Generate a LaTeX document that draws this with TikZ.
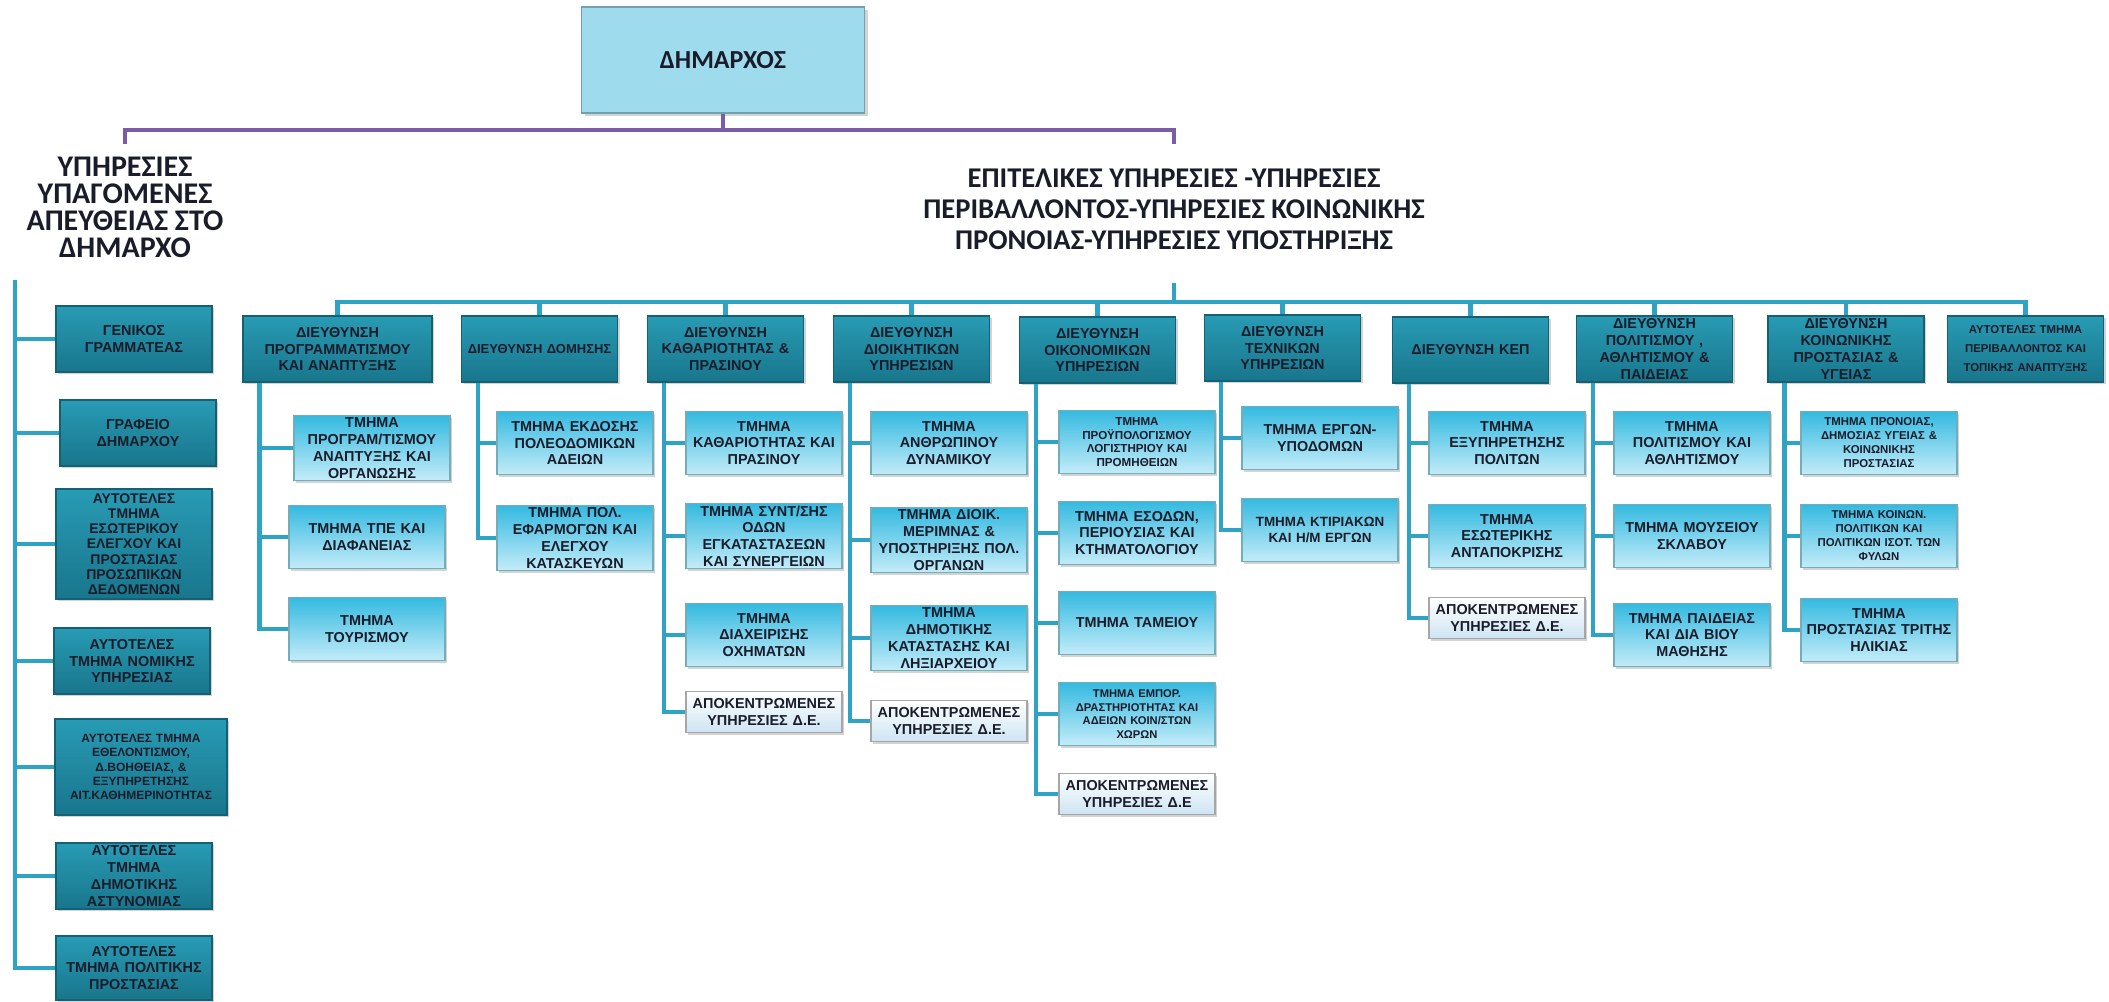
\documentclass[tikz,border=0pt]{standalone}
\usepackage{fontspec}
\setmainfont{Liberation Sans}
\newfontfamily\headfont{Carlito}
\usetikzlibrary{shadows}

\definecolor{darkteal}{RGB}{40,155,180}
\definecolor{darktealb}{RGB}{24,118,140}
\definecolor{edgeteal}{RGB}{20,96,116}
\definecolor{lightcyan}{RGB}{52,186,224}
\definecolor{palecyan}{RGB}{196,236,249}
\definecolor{paleblue}{RGB}{206,228,243}
\definecolor{linkblue}{RGB}{46,163,196}
\definecolor{mayorpurple}{RGB}{124,92,166}
\definecolor{mayorfill}{RGB}{158,219,236}
\definecolor{inkdark}{RGB}{26,28,42}

\begin{document}
\begin{tikzpicture}[x=0.5pt,y=-0.5pt,
  headbox/.style={rectangle, draw=edgeteal, line width=0.6pt,
    top color=darkteal, bottom color=darktealb,
    minimum width=77.5pt, minimum height=33pt, text width=76pt,
    align=center, inner sep=1pt, text=inkdark,
    font=\bfseries\fontsize{7.2}{8.4}\selectfont,
    drop shadow={shadow xshift=1.2pt, shadow yshift=-1.2pt, opacity=0.35}},
  subbox/.style={headbox, draw=darktealb!60, top color=lightcyan,
    bottom color=palecyan, minimum height=31.5pt},
  decbox/.style={subbox, draw=gray!70, top color=white,
    bottom color=paleblue, minimum height=20.5pt},
  small/.style 2 args={font=\bfseries\fontsize{#1}{#2}\selectfont},
  link/.style={draw=linkblue, line width=2.4pt},
  plink/.style={draw=mayorpurple, line width=2pt},
  heading/.style={align=center, text=inkdark,
    font=\headfont\bfseries\fontsize{15}{13.5}\selectfont}]

  \useasboundingbox (0,0) rectangle (2109,1001);

  % mayor and the two headings
  \node[rectangle, draw=edgeteal!60, line width=0.6pt, fill=mayorfill,
        minimum width=141.5pt, minimum height=53pt, text=inkdark,
        font=\headfont\bfseries\fontsize{13}{15}\selectfont,
        drop shadow={shadow xshift=1.5pt, shadow yshift=-1.5pt, opacity=0.35}]
        (mayor) at (723,60) {ΔΗΜΑΡΧΟΣ};
  \node[heading] (lefthead) at (125,207)
        {ΥΠΗΡΕΣΙΕΣ\\ΥΠΑΓΟΜΕΝΕΣ\\ΑΠΕΥΘΕΙΑΣ ΣΤΟ\\ΔΗΜΑΡΧΟ};
  \node[heading, font=\headfont\bfseries\fontsize{14.3}{15.5}\selectfont]
        (righthead) at (1174,209)
        {ΕΠΙΤΕΛΙΚΕΣ ΥΠΗΡΕΣΙΕΣ -ΥΠΗΡΕΣΙΕΣ\\ΠΕΡΙΒΑΛΛΟΝΤΟΣ-ΥΠΗΡΕΣΙΕΣ ΚΟΙΝΩΝΙΚΗΣ\\ΠΡΟΝΟΙΑΣ-ΥΠΗΡΕΣΙΕΣ ΥΠΟΣΤΗΡΙΞΗΣ};

  \coordinate (pl) at (125,144);
  \coordinate (pr) at (1174,144);
  \coordinate (bar) at (723,130);
  \draw[plink] (pl) |- (bar) -| (pr);
  \draw[plink] (mayor.south) -- (bar);

  % services under the mayor
  \node[headbox] (l1) at (134,339) {ΓΕΝΙΚΟΣ\\ΓΡΑΜΜΑΤΕΑΣ};
  \node[headbox] (l2) at (138,433) {ΓΡΑΦΕΙΟ\\ΔΗΜΑΡΧΟΥ};
  \node[headbox, minimum height=55pt, small={7}{7.6}] (l3) at (134,544)
        {ΑΥΤΟΤΕΛΕΣ\\ΤΜΗΜΑ\\ΕΣΩΤΕΡΙΚΟΥ\\ΕΛΕΓΧΟΥ ΚΑΙ\\ΠΡΟΣΤΑΣΙΑΣ\\ΠΡΟΣΩΠΙΚΩΝ\\ΔΕΔΟΜΕΝΩΝ};
  \node[headbox] (l4) at (132,661) {ΑΥΤΟΤΕΛΕΣ\\ΤΜΗΜΑ ΝΟΜΙΚΗΣ\\ΥΠΗΡΕΣΙΑΣ};
  \node[headbox, minimum width=86pt, text width=84pt, minimum height=48pt, small={6}{7.2}]
        (l5) at (141,767)
        {ΑΥΤΟΤΕΛΕΣ ΤΜΗΜΑ\\ΕΘΕΛΟΝΤΙΣΜΟΥ,\\Δ.ΒΟΗΘΕΙΑΣ, \&\\ΕΞΥΠΗΡΕΤΗΣΗΣ\\ΑΙΤ.ΚΑΘΗΜΕΡΙΝΟΤΗΤΑΣ};
  \node[headbox] (l6) at (134,876) {ΑΥΤΟΤΕΛΕΣ\\ΤΜΗΜΑ\\ΔΗΜΟΤΙΚΗΣ\\ΑΣΤΥΝΟΜΙΑΣ};
  \node[headbox, minimum height=32pt] (l7) at (134,968)
        {ΑΥΤΟΤΕΛΕΣ\\ΤΜΗΜΑ ΠΟΛΙΤΙΚΗΣ\\ΠΡΟΣΤΑΣΙΑΣ};

  \coordinate (ltop) at (15,280);
  \draw[link] (ltop) |- (l7.west);
  \foreach \l in {l1,l2,l3,l4,l5,l6}
    \draw[link] (ltop |- \l.west) -- (\l.west);

  % directorates
  \node[headbox, minimum width=94.5pt, text width=92pt] (d1) at (337.5,349)
        {ΔΙΕΥΘΥΝΣΗ\\ΠΡΟΓΡΑΜΜΑΤΙΣΜΟΥ\\ΚΑΙ ΑΝΑΠΤΥΞΗΣ};
  \node[headbox, small={6.5}{8}] (d2) at (539.5,349) {ΔΙΕΥΘΥΝΣΗ ΔΟΜΗΣΗΣ};
  \node[headbox] (d3) at (725.5,349) {ΔΙΕΥΘΥΝΣΗ\\ΚΑΘΑΡΙΟΤΗΤΑΣ \&\\ΠΡΑΣΙΝΟΥ};
  \node[headbox] (d4) at (911.5,349) {ΔΙΕΥΘΥΝΣΗ\\ΔΙΟΙΚΗΤΙΚΩΝ\\ΥΠΗΡΕΣΙΩΝ};
  \node[headbox] (d5) at (1097.5,350) {ΔΙΕΥΘΥΝΣΗ\\ΟΙΚΟΝΟΜΙΚΩΝ\\ΥΠΗΡΕΣΙΩΝ};
  \node[headbox] (d6) at (1282.5,348) {ΔΙΕΥΘΥΝΣΗ\\ΤΕΧΝΙΚΩΝ\\ΥΠΗΡΕΣΙΩΝ};
  \node[headbox] (d7) at (1470.5,350) {ΔΙΕΥΘΥΝΣΗ ΚΕΠ};
  \node[headbox] (d8) at (1654.5,349) {ΔΙΕΥΘΥΝΣΗ\\ΠΟΛΙΤΙΣΜΟΥ ,\\ΑΘΛΗΤΙΣΜΟΥ \&\\ΠΑΙΔΕΙΑΣ};
  \node[headbox] (d9) at (1846,349) {ΔΙΕΥΘΥΝΣΗ\\ΚΟΙΝΩΝΙΚΗΣ\\ΠΡΟΣΤΑΣΙΑΣ \&\\ΥΓΕΙΑΣ};
  \node[headbox, small={5.7}{9.5}] (d10) at (2025.5,349)
        {ΑΥΤΟΤΕΛΕΣ ΤΜΗΜΑ\\ΠΕΡΙΒΑΛΛΟΝΤΟΣ ΚΑΙ\\ΤΟΠΙΚΗΣ ΑΝΑΠΤΥΞΗΣ};

  \coordinate (bustop) at (1174,283);
  \coordinate (bus) at (1174,302);
  \draw[link] (bustop) -- (bus);
  \draw[link] (d1.north) |- (bus) -| (d10.north);
  \foreach \d in {d2,d3,d4,d5,d6,d7,d8,d9}
    \draw[link] (\d.north) -- (\d.north |- bus);

  % departments
  \node[subbox] (s11) at (372,448) {ΤΜΗΜΑ\\ΠΡΟΓΡΑΜ/ΤΙΣΜΟΥ\\ΑΝΑΠΤΥΞΗΣ ΚΑΙ\\ΟΡΓΑΝΩΣΗΣ};
  \node[subbox] (s12) at (367,537) {ΤΜΗΜΑ ΤΠΕ ΚΑΙ\\ΔΙΑΦΑΝΕΙΑΣ};
  \node[subbox] (s13) at (367,629) {ΤΜΗΜΑ\\ΤΟΥΡΙΣΜΟΥ};

  \node[subbox] (s21) at (575,443) {ΤΜΗΜΑ ΕΚΔΟΣΗΣ\\ΠΟΛΕΟΔΟΜΙΚΩΝ\\ΑΔΕΙΩΝ};
  \node[subbox] (s22) at (575,538) {ΤΜΗΜΑ ΠΟΛ.\\ΕΦΑΡΜΟΓΩΝ ΚΑΙ\\ΕΛΕΓΧΟΥ\\ΚΑΤΑΣΚΕΥΩΝ};

  \node[subbox] (s31) at (764,443) {ΤΜΗΜΑ\\ΚΑΘΑΡΙΟΤΗΤΑΣ ΚΑΙ\\ΠΡΑΣΙΝΟΥ};
  \node[subbox] (s32) at (764,536) {ΤΜΗΜΑ ΣΥΝΤ/ΣΗΣ\\ΟΔΩΝ\\ΕΓΚΑΤΑΣΤΑΣΕΩΝ\\ΚΑΙ ΣΥΝΕΡΓΕΙΩΝ};
  \node[subbox] (s33) at (764,635) {ΤΜΗΜΑ\\ΔΙΑΧΕΙΡΙΣΗΣ\\ΟΧΗΜΑΤΩΝ};
  \node[decbox] (s34) at (764,712) {ΑΠΟΚΕΝΤΡΩΜΕΝΕΣ\\ΥΠΗΡΕΣΙΕΣ Δ.Ε.};

  \node[subbox] (s41) at (949,443) {ΤΜΗΜΑ\\ΑΝΘΡΩΠΙΝΟΥ\\ΔΥΝΑΜΙΚΟΥ};
  \node[subbox] (s42) at (949,540) {ΤΜΗΜΑ ΔΙΟΙΚ.\\ΜΕΡΙΜΝΑΣ \&\\ΥΠΟΣΤΗΡΙΞΗΣ ΠΟΛ.\\ΟΡΓΑΝΩΝ};
  \node[subbox] (s43) at (949,638) {ΤΜΗΜΑ\\ΔΗΜΟΤΙΚΗΣ\\ΚΑΤΑΣΤΑΣΗΣ ΚΑΙ\\ΛΗΞΙΑΡΧΕΙΟΥ};
  \node[decbox] (s44) at (949,721) {ΑΠΟΚΕΝΤΡΩΜΕΝΕΣ\\ΥΠΗΡΕΣΙΕΣ Δ.Ε.};

  \node[subbox, small={5.8}{6.8}] (s51) at (1137,442) {ΤΜΗΜΑ\\ΠΡΟΫΠΟΛΟΓΙΣΜΟΥ\\ΛΟΓΙΣΤΗΡΙΟΥ ΚΑΙ\\ΠΡΟΜΗΘΕΙΩΝ};
  \node[subbox] (s52) at (1137,533) {ΤΜΗΜΑ ΕΣΟΔΩΝ,\\ΠΕΡΙΟΥΣΙΑΣ ΚΑΙ\\ΚΤΗΜΑΤΟΛΟΓΙΟΥ};
  \node[subbox] (s53) at (1137,623) {ΤΜΗΜΑ ΤΑΜΕΙΟΥ};
  \node[subbox, small={5.6}{6.7}] (s54) at (1137,714) {ΤΜΗΜΑ ΕΜΠΟΡ.\\ΔΡΑΣΤΗΡΙΟΤΗΤΑΣ ΚΑΙ\\ΑΔΕΙΩΝ ΚΟΙΝ/ΣΤΩΝ\\ΧΩΡΩΝ};
  \node[decbox] (s55) at (1137,794) {ΑΠΟΚΕΝΤΡΩΜΕΝΕΣ\\ΥΠΗΡΕΣΙΕΣ Δ.Ε};

  \node[subbox] (s61) at (1320,438) {ΤΜΗΜΑ ΕΡΓΩΝ-\\ΥΠΟΔΟΜΩΝ};
  \node[subbox, small={6.7}{8.2}] (s62) at (1320,530) {ΤΜΗΜΑ ΚΤΙΡΙΑΚΩΝ\\ΚΑΙ Η/Μ ΕΡΓΩΝ};

  \node[subbox] (s71) at (1507,443) {ΤΜΗΜΑ\\ΕΞΥΠΗΡΕΤΗΣΗΣ\\ΠΟΛΙΤΩΝ};
  \node[subbox] (s72) at (1507,536) {ΤΜΗΜΑ\\ΕΣΩΤΕΡΙΚΗΣ\\ΑΝΤΑΠΟΚΡΙΣΗΣ};
  \node[decbox] (s73) at (1507,618) {ΑΠΟΚΕΝΤΡΩΜΕΝΕΣ\\ΥΠΗΡΕΣΙΕΣ Δ.Ε.};

  \node[subbox] (s81) at (1692,443) {ΤΜΗΜΑ\\ΠΟΛΙΤΙΣΜΟΥ ΚΑΙ\\ΑΘΛΗΤΙΣΜΟΥ};
  \node[subbox] (s82) at (1692,536) {ΤΜΗΜΑ ΜΟΥΣΕΙΟΥ\\ΣΚΛΑΒΟΥ};
  \node[subbox] (s83) at (1692,635) {ΤΜΗΜΑ ΠΑΙΔΕΙΑΣ\\ΚΑΙ ΔΙΑ ΒΙΟΥ\\ΜΑΘΗΣΗΣ};

  \node[subbox, small={5.7}{7}] (s91) at (1879,443) {ΤΜΗΜΑ ΠΡΟΝΟΙΑΣ,\\ΔΗΜΟΣΙΑΣ ΥΓΕΙΑΣ \&\\ΚΟΙΝΩΝΙΚΗΣ\\ΠΡΟΣΤΑΣΙΑΣ};
  \node[subbox, small={5.7}{7}] (s92) at (1879,536) {ΤΜΗΜΑ ΚΟΙΝΩΝ.\\ΠΟΛΙΤΙΚΩΝ ΚΑΙ\\ΠΟΛΙΤΙΚΩΝ ΙΣΟΤ. ΤΩΝ\\ΦΥΛΩΝ};
  \node[subbox] (s93) at (1879,630) {ΤΜΗΜΑ\\ΠΡΟΣΤΑΣΙΑΣ ΤΡΙΤΗΣ\\ΗΛΙΚΙΑΣ};

  % column lines: directorate / last department / other departments
  \foreach \d/\last/\others in {d1/s13/{s11,s12}, d2/s22/{s21},
      d3/s34/{s31,s32,s33}, d4/s44/{s41,s42,s43},
      d5/s55/{s51,s52,s53,s54}, d6/s62/{s61}, d7/s73/{s71,s72},
      d8/s83/{s81,s82}, d9/s93/{s91,s92}} {
    \coordinate (col) at ([xshift=8.5pt]\d.south west);
    \draw[link] (col) |- (\last.west);
    \foreach \s in \others
      \draw[link] (col |- \s.west) -- (\s.west);
  }

\end{tikzpicture}
\end{document}
